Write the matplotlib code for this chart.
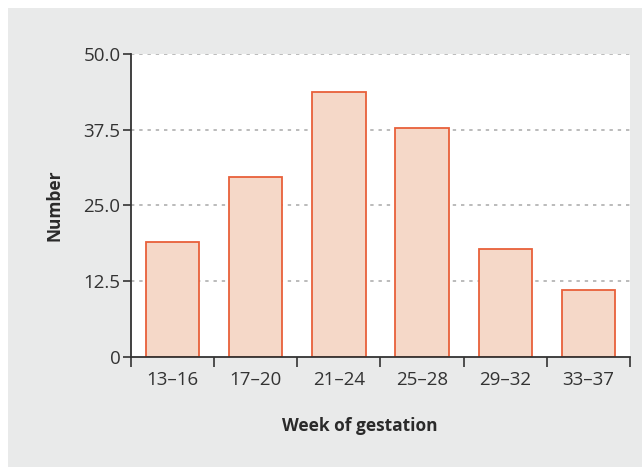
import matplotlib
matplotlib.use("Agg")
import matplotlib.pyplot as plt
from matplotlib.patches import Rectangle

categories = ["13\u201316", "17\u201320", "21\u201324", "25\u201328", "29\u201332", "33\u201337"]
values = [18.9, 29.7, 43.8, 37.8, 17.8, 11.0]
ytick_vals = [0, 12.5, 25.0, 37.5, 50.0]
ytick_labels = ["0", "12.5", "25.0", "37.5", "50.0"]

plt.rcParams['font.family'] = ['Open Sans', 'DejaVu Sans']

W, H = 642, 467
fig = plt.figure(figsize=(W/100, H/100), dpi=100, facecolor='white')
fig.patches.append(Rectangle((8/W, 0), 1 - 8/W, (H - 8)/H, transform=fig.transFigure,
                             facecolor='#e9eaea', edgecolor='none', zorder=-10))

left, right, top, bottom = 131, 630, 54, 356.7
ax = fig.add_axes([left/W, (H-bottom)/H, (right-left)/W, (bottom-top)/H])
ax.set_facecolor('white')

x = list(range(len(categories)))
ax.bar(x, values, width=0.64, color='#f5d8c8', edgecolor='#e8603a', linewidth=1.3, zorder=3)

ax.set_xlim(-0.5, len(categories) - 0.5)
ax.set_ylim(0, 50)

for v in ytick_vals[1:]:
    ax.axhline(v, color='#a8a8a8', linewidth=1.1, linestyle=(0, (2.2, 3.2)), zorder=1)

ax.set_yticks(ytick_vals)
ax.set_yticklabels(ytick_labels)
ax.tick_params(axis='y', direction='out', length=6, width=1.2, color='#333333',
               labelsize=13.5, labelcolor='#333333', pad=1.5)

ax.set_xticks([i - 0.5 for i in range(len(categories) + 1)])
ax.set_xticklabels([])
ax.tick_params(axis='x', which='major', direction='out', length=7, width=1.2, color='#333333')
ax.set_xticks(x, categories, minor=True)
ax.tick_params(axis='x', which='minor', length=0, labelsize=13.5, labelcolor='#333333', pad=10)

for s in ['top', 'right']:
    ax.spines[s].set_visible(False)
for s in ['left', 'bottom']:
    ax.spines[s].set_color('#333333')
    ax.spines[s].set_linewidth(1.3)
    ax.spines[s].set_zorder(4)

ax.set_xlabel("Week of gestation", fontsize=12.5, fontweight='bold', color='#2a2a2a')
ax.xaxis.set_label_coords(0.459, -0.200)
ax.set_ylabel("Number", fontsize=12.5, fontweight='bold', color='#2a2a2a')
ax.yaxis.set_label_coords(-0.136, 0.5)

fig.savefig("out.png", dpi=100, facecolor=fig.get_facecolor())
